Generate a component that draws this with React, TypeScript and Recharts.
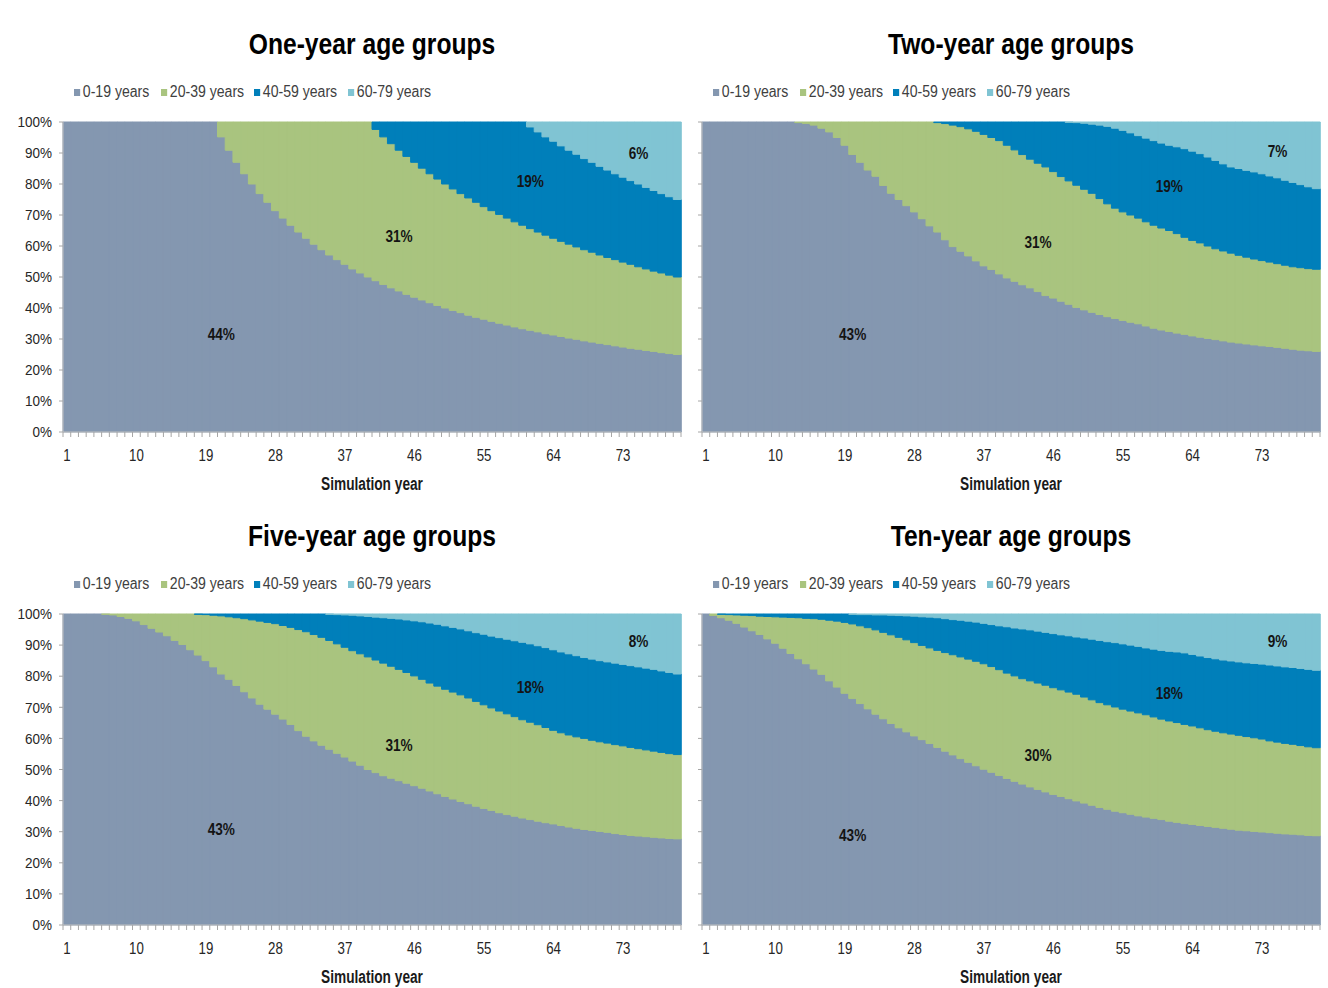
import React from 'react';
import {BarChart, Bar, XAxis, YAxis, ReferenceDot} from 'recharts';

const FONT = '"Liberation Sans", Arial, sans-serif';

// simulation years 1..80
const years = Array.from({length: 80}, (_, i) => i + 1);
const labelYears = [1, 10, 19, 28, 37, 46, 55, 64, 73];
const yTicks = [0, 10, 20, 30, 40, 50, 60, 70, 80, 90, 100];

const ageGroups = ['0-19 years', '20-39 years', '40-59 years', '60-79 years'];
const colors = ['#8497B0', '#A9C47F', '#007FBA', '#80C4D3'];

// share (%) of population under 20 / under 40 / under 60
const oneYearUnder20 = [
    100, 100, 100, 100, 100, 100, 100, 100, 100, 100,
    100, 100, 100, 100, 100, 100, 100, 100, 100, 100,
    95.2, 90.9, 87.0, 83.3, 80.0, 76.9, 74.1, 71.4, 69.0, 66.7,
    64.5, 62.5, 60.6, 58.8, 57.1, 55.6, 54.1, 52.6, 51.3, 50.0,
    48.8, 47.6, 46.5, 45.5, 44.4, 43.5, 42.6, 41.7, 40.8, 40.0,
    39.2, 38.5, 37.7, 37.0, 36.4, 35.7, 35.1, 34.5, 33.9, 33.3,
    32.8, 32.3, 31.7, 31.3, 30.8, 30.3, 29.9, 29.4, 29.0, 28.6,
    28.2, 27.8, 27.4, 27.0, 26.7, 26.3, 26.0, 25.6, 25.3, 25.0,
];
const oneYearUnder40 = [
    100, 100, 100, 100, 100, 100, 100, 100, 100, 100,
    100, 100, 100, 100, 100, 100, 100, 100, 100, 100,
    100, 100, 100, 100, 100, 100, 100, 100, 100, 100,
    100, 100, 100, 100, 100, 100, 100, 100, 100, 100,
    97.6, 95.2, 93.0, 90.9, 88.9, 87.0, 85.1, 83.3, 81.6, 80.0,
    78.4, 76.9, 75.5, 74.1, 72.7, 71.4, 70.2, 69.0, 67.8, 66.7,
    65.6, 64.5, 63.5, 62.5, 61.5, 60.6, 59.7, 58.8, 58.0, 57.1,
    56.3, 55.6, 54.8, 54.1, 53.3, 52.6, 51.9, 51.3, 50.6, 50.0,
];
const oneYearUnder60 = [
    100, 100, 100, 100, 100, 100, 100, 100, 100, 100,
    100, 100, 100, 100, 100, 100, 100, 100, 100, 100,
    100, 100, 100, 100, 100, 100, 100, 100, 100, 100,
    100, 100, 100, 100, 100, 100, 100, 100, 100, 100,
    100, 100, 100, 100, 100, 100, 100, 100, 100, 100,
    100, 100, 100, 100, 100, 100, 100, 100, 100, 100,
    98.4, 96.8, 95.2, 93.8, 92.3, 90.9, 89.6, 88.2, 87.0, 85.7,
    84.5, 83.3, 82.2, 81.1, 80.0, 78.9, 77.9, 76.9, 75.9, 75.0,
];

const twoYearUnder20 = [
    100, 100, 100, 100, 100, 100, 100, 100, 100, 100,
    100, 100, 99.8, 99.5, 99, 98, 96.8, 95, 92.5, 89.5,
    87, 84.5, 82.5, 79.5, 77, 75, 73, 71, 68.8, 66.5,
    64.5, 62, 59.8, 58.3, 56.8, 55.2, 53.6, 52.4, 51, 49.7,
    48.6, 47.5, 46.5, 45.3, 44, 43.2, 42.2, 41.2, 40.2, 39.4,
    38.6, 37.9, 37.2, 36.6, 36, 35.4, 34.9, 34.2, 33.5, 32.9,
    32.4, 31.9, 31.5, 31, 30.6, 30.2, 29.8, 29.4, 29, 28.7,
    28.4, 28.1, 27.8, 27.6, 27.3, 27, 26.7, 26.4, 26.2, 26,
];
const twoYearUnder40 = [
    100, 100, 100, 100, 100, 100, 100, 100, 100, 100,
    100, 100, 100, 100, 100, 100, 100, 100, 100, 100,
    100, 100, 100, 100, 100, 100, 100, 100, 100, 100,
    99.8, 99.5, 99, 98.5, 97.8, 97, 96, 95, 94, 92.5,
    91, 89.5, 88, 86.7, 85.5, 84, 82.4, 81, 79.6, 78.3,
    77, 75.3, 73.6, 72.2, 71, 70, 69, 67.8, 66.7, 65.8,
    65, 64, 62.8, 61.8, 61, 60, 59.1, 58.4, 57.7, 57,
    56.4, 55.8, 55.3, 54.8, 54.3, 53.8, 53.3, 53, 52.7, 52.5,
];
const twoYearUnder60 = [
    100, 100, 100, 100, 100, 100, 100, 100, 100, 100,
    100, 100, 100, 100, 100, 100, 100, 100, 100, 100,
    100, 100, 100, 100, 100, 100, 100, 100, 100, 100,
    100, 100, 100, 100, 100, 100, 100, 100, 100, 100,
    100, 100, 100, 100, 100, 100, 100, 99.9, 99.8, 99.6,
    99.3, 99, 98.6, 98, 97.3, 96.5, 95.6, 94.8, 94, 93.2,
    92.5, 92, 91.4, 90.6, 89.8, 88.7, 87.6, 86.5, 85.5, 85,
    84.4, 83.9, 83.3, 82.6, 82, 81.2, 80.5, 79.8, 79.1, 78.5,
];

const fiveYearUnder20 = [
    100, 100, 100, 100, 100, 99.9, 99.7, 99.2, 98.6, 97.8,
    96.6, 95.4, 94.2, 93, 91.5, 90.2, 88.5, 86.8, 85, 83,
    80.7, 79, 77, 75, 73, 71, 69.4, 67.8, 66.2, 64.5,
    62.5, 60.7, 59.2, 57.8, 56.5, 55.2, 54, 52.7, 51.4, 50,
    49, 48, 47.2, 46.4, 45.6, 44.8, 44, 43.1, 42.2, 41.3,
    40.5, 39.7, 39, 38.2, 37.5, 36.8, 36.1, 35.5, 35, 34.4,
    33.9, 33.4, 32.9, 32.5, 32, 31.5, 31.1, 30.7, 30.4, 30.1,
    29.8, 29.4, 29.1, 28.8, 28.6, 28.4, 28.2, 28, 27.8, 27.7,
];
const fiveYearUnder40 = [
    100, 100, 100, 100, 100, 100, 100, 100, 100, 100,
    100, 100, 100, 100, 100, 100, 100, 99.9, 99.8, 99.6,
    99.4, 99.1, 98.8, 98.5, 98.1, 97.7, 97.3, 96.9, 96.3, 95.7,
    95, 94.3, 93.4, 92.5, 91.5, 90.4, 89.3, 88.2, 87.2, 86.2,
    85.2, 84.2, 83.2, 82.2, 81.2, 80.1, 79, 77.8, 76.8, 75.8,
    74.9, 74, 73, 71.9, 70.8, 69.8, 68.8, 67.9, 67, 66,
    65.2, 64.4, 63.5, 62.6, 61.8, 61.1, 60.5, 60, 59.4, 58.9,
    58.5, 58, 57.6, 57.1, 56.7, 56.3, 55.9, 55.5, 55.1, 54.8,
];
const fiveYearUnder60 = [
    100, 100, 100, 100, 100, 100, 100, 100, 100, 100,
    100, 100, 100, 100, 100, 100, 100, 100, 100, 100,
    100, 100, 100, 100, 100, 100, 100, 100, 100, 100,
    100, 100, 100, 100, 99.9, 99.8, 99.7, 99.6, 99.4, 99.2,
    99, 98.8, 98.6, 98.4, 98.1, 97.8, 97.5, 97.1, 96.7, 96.2,
    95.7, 95.2, 94.6, 94, 93.5, 92.9, 92.4, 91.9, 91.4, 90.9,
    90.4, 89.8, 89.2, 88.5, 87.8, 87.2, 86.6, 86, 85.5, 85,
    84.6, 84.2, 83.8, 83.4, 83, 82.6, 82.2, 81.7, 81.2, 80.7,
];

const tenYearUnder20 = [
    100, 99.5, 98.8, 98, 97, 95.8, 94.6, 93.4, 92, 90.6,
    89, 87.3, 85.6, 84, 82.3, 80.6, 78.5, 76.5, 74.5, 72.8,
    71.2, 69.5, 67.8, 66.3, 64.8, 63.4, 62.1, 60.8, 59.6, 58.4,
    57.1, 55.9, 54.7, 53.5, 52.3, 51.2, 50.1, 49.1, 48.1, 47.1,
    46.2, 45.3, 44.4, 43.6, 42.8, 42, 41.3, 40.6, 39.9, 39.2,
    38.5, 37.8, 37.2, 36.6, 36.1, 35.6, 35.1, 34.7, 34.3, 33.9,
    33.4, 33, 32.6, 32.3, 32, 31.7, 31.4, 31.1, 30.8, 30.5,
    30.3, 30.1, 29.9, 29.7, 29.5, 29.3, 29.2, 29, 28.8, 28.7,
];
const tenYearUnder40 = [
    100, 100, 99.9, 99.8, 99.7, 99.6, 99.5, 99.3, 99.2, 99.1,
    99, 98.9, 98.8, 98.6, 98.5, 98.3, 98, 97.7, 97.3, 96.8,
    96.2, 95.6, 94.9, 94.1, 93.3, 92.5, 91.7, 90.8, 89.9, 89.1,
    88.3, 87.6, 86.9, 86.2, 85.5, 84.8, 84, 83.1, 82.1, 81,
    80.1, 79.2, 78.5, 77.8, 77.1, 76.3, 75.6, 74.9, 74.2, 73.3,
    72.4, 71.5, 70.8, 70.1, 69.4, 68.8, 68.2, 67.6, 66.9, 66.2,
    65.6, 65.1, 64.5, 64, 63.4, 62.8, 62.3, 61.8, 61.4, 61,
    60.6, 60.2, 59.8, 59.2, 58.8, 58.4, 58.1, 57.7, 57.3, 57,
];
const tenYearUnder60 = [
    100, 100, 100, 100, 100, 100, 100, 100, 100, 100,
    100, 100, 100, 100, 100, 100, 100, 100, 100, 99.9,
    99.8, 99.8, 99.7, 99.7, 99.6, 99.5, 99.4, 99.3, 99.1, 99,
    98.8, 98.5, 98.2, 98, 97.7, 97.4, 97, 96.6, 96.2, 95.9,
    95.5, 95.2, 94.9, 94.5, 94.1, 93.7, 93.3, 93, 92.6, 92.3,
    91.9, 91.5, 91.1, 90.8, 90.4, 90, 89.6, 89.1, 88.7, 88.3,
    88, 87.8, 87.5, 87, 86.5, 86, 85.6, 85.2, 84.9, 84.6,
    84.3, 84.1, 83.9, 83.6, 83.3, 83, 82.8, 82.5, 82.2, 81.9,
];

// data labels: [year, value, text]
const oneYearLabels: [number, number, string][] = [[21, 31.6, '44%'], [44, 63.2, '31%'], [61, 81, '19%'], [75, 90, '6%']];
const twoYearLabels: [number, number, string][] = [[20, 31.6, '43%'], [44, 61.3, '31%'], [61, 79.4, '19%'], [75, 90.6, '7%']];
const fiveYearLabels: [number, number, string][] = [[21, 30.9, '43%'], [44, 57.9, '31%'], [61, 76.5, '18%'], [75, 91.3, '8%']];
const tenYearLabels: [number, number, string][] = [[20, 28.9, '43%'], [44, 54.7, '30%'], [61, 74.6, '18%'], [75, 91.3, '9%']];

const buildRows = (u20: number[], u40: number[], u60: number[]) =>
    years.map((year, i) => ({
        year,
        g0: u20[i],
        g1: +(u40[i] - u20[i]).toFixed(2),
        g2: +(u60[i] - u40[i]).toFixed(2),
        g3: +(100 - u60[i]).toFixed(2),
    }));

const PLOT_W = 618;
const BAND = PLOT_W / years.length;
const legendOffsets = [11, 98, 191, 285];

const YearTick = (props: any) => {
    const {x, y, payload} = props;
    const v = payload.value;
    return (
        <g>
            <line x1={x - BAND / 2} x2={x - BAND / 2} y1={y} y2={y + 5} stroke="#a6a6a6"/>
            {v === 80 && <line x1={x + BAND / 2} x2={x + BAND / 2} y1={y} y2={y + 5} stroke="#a6a6a6"/>}
            {labelYears.includes(v) && (
                <text transform={`translate(${x},${y + 23}) scale(0.78,1)`} dy="0.35em" textAnchor="middle"
                      fontSize={17} fontFamily={FONT} fill="#262626">
                    {v}
                </text>
            )}
        </g>
    );
};

const PercentTick = (props: any) => {
    const {x, y, payload} = props;
    return (
        <text transform={`translate(${x},${y}) scale(0.9,1)`} dy="0.35em" textAnchor="end"
              fontSize={15} fontFamily={FONT} fill="#262626">
            {`${payload.value}%`}
        </text>
    );
};

interface PanelProps {
    title: string;
    rows: ReturnType<typeof buildRows>;
    labels: [number, number, string][];
    right: boolean;
    top: number;
    plotH: number;
}

const Panel: React.FC<PanelProps> = ({title, rows, labels, right, top, plotH}) => {
    const chartLeft = right ? 640 : 0;
    const plotLeft = right ? 702 : 63;
    const center = plotLeft + PLOT_W / 2;
    const plotTop = top + 122;
    return (
        <>
            <div style={{
                position: 'absolute', left: center - 250, width: 500, top: top + 27, height: 34, lineHeight: '34px',
                textAlign: 'center', fontFamily: FONT, fontWeight: 700, fontSize: 29, color: '#000',
                transform: 'scaleX(0.85)',
            }}>{title}</div>
            {ageGroups.map((g, i) => (
                <div key={g} style={{
                    position: 'absolute', left: plotLeft + legendOffsets[i], top: top + 82, height: 20,
                    display: 'flex', alignItems: 'center', gap: 3, fontFamily: FONT, fontSize: 16, color: '#404040',
                    whiteSpace: 'nowrap', transform: 'scaleX(0.88)', transformOrigin: 'left center',
                }}>
                    <span style={{width: 7, height: 7, background: colors[i], display: 'inline-block'}}/>
                    <span>{g}</span>
                </div>
            ))}
            <div style={{position: 'absolute', left: chartLeft, top: plotTop - 10}}>
                <BarChart width={plotLeft - chartLeft + PLOT_W + 8} height={plotH + 50} data={rows}
                          margin={{top: 10, right: 8, bottom: 0, left: 0}} barCategoryGap={0} barGap={0}>
                    <XAxis dataKey="year" interval={0} height={40} tickLine={false} tickSize={0} tickMargin={0}
                           axisLine={{stroke: '#bfbfbf'}} tick={<YearTick/>}/>
                    <YAxis type="number" domain={[0, 100]} ticks={yTicks} width={plotLeft - chartLeft}
                           tickSize={4} tickMargin={7} tickLine={{stroke: '#a6a6a6'}} axisLine={{stroke: '#bfbfbf'}}
                           tick={right ? () => <g/> : <PercentTick/>}/>
                    {['g0', 'g1', 'g2', 'g3'].map((k, i) => (
                        <Bar key={k} dataKey={k} stackId="a" fill={colors[i]} stroke={colors[i]} strokeWidth={1}
                             isAnimationActive={false}/>
                    ))}
                    {labels.map(([yr, v, t]) => (
                        <ReferenceDot key={t + yr} x={yr} y={v} r={1}
                                      shape={(p: any) => (
                                          <text transform={`translate(${p.cx},${p.cy}) scale(0.8,1)`} dy="0.35em"
                                                textAnchor="middle" fontSize={17} fontWeight={700} fontFamily={FONT}
                                                fill="#141414">{t}</text>
                                      )}/>
                    ))}
                </BarChart>
            </div>
            <div style={{
                position: 'absolute', left: center - 150, width: 300, top: plotTop + plotH + 40, height: 24, lineHeight: '24px',
                textAlign: 'center', fontFamily: FONT, fontWeight: 700, fontSize: 18, color: '#1a1a1a',
                transform: 'scaleX(0.76)',
            }}>Simulation year</div>
        </>
    );
};

export default function App() {
    return (
        <div style={{position: 'absolute', left: 0, top: 0, width: 1328, height: 988, background: '#fff'}}>
            <Panel title="One-year age groups" rows={buildRows(oneYearUnder20, oneYearUnder40, oneYearUnder60)}
                   labels={oneYearLabels} right={false} top={0} plotH={310}/>
            <Panel title="Two-year age groups" rows={buildRows(twoYearUnder20, twoYearUnder40, twoYearUnder60)}
                   labels={twoYearLabels} right={true} top={0} plotH={310}/>
            <Panel title="Five-year age groups" rows={buildRows(fiveYearUnder20, fiveYearUnder40, fiveYearUnder60)}
                   labels={fiveYearLabels} right={false} top={492} plotH={311}/>
            <Panel title="Ten-year age groups" rows={buildRows(tenYearUnder20, tenYearUnder40, tenYearUnder60)}
                   labels={tenYearLabels} right={true} top={492} plotH={311}/>
        </div>
    );
}
